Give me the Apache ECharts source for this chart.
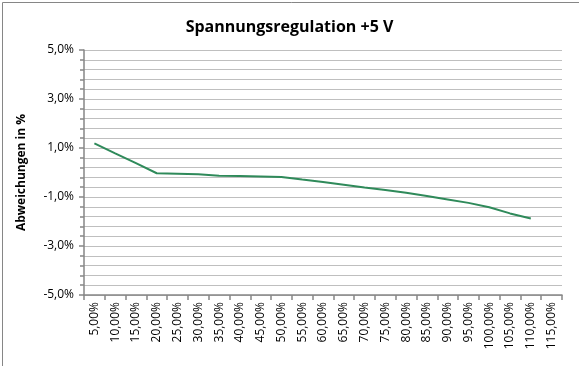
<!DOCTYPE html>
<html>
<head>
<meta charset="utf-8">
<script src="https://cdn.jsdelivr.net/npm/echarts@6/dist/echarts.min.js"></script>
<style>html,body{margin:0;padding:0;background:#fff}#c{width:579px;height:366px}</style>
</head>
<body>
<div id="c"></div>
<script>
const titleText = 'Spannungsregulation +5 V';
const yAxisTitle = 'Abweichungen in %';
const categories = ['5,00%','10,00%','15,00%','20,00%','25,00%','30,00%','35,00%','40,00%','45,00%','50,00%','55,00%','60,00%','65,00%','70,00%','75,00%','80,00%','85,00%','90,00%','95,00%','100,00%','105,00%','110,00%','115,00%'];
const deviation = [1.19, 0.78, 0.38, -0.03, -0.05, -0.07, -0.13, -0.14, -0.16, -0.18, -0.29, -0.39, -0.50, -0.61, -0.71, -0.83, -0.96, -1.10, -1.24, -1.42, -1.67, -1.88];
const yMin = -5, yMax = 5, yStep = 2;

const FONT = 'Open Sans';
const chart = echarts.init(document.getElementById('c'), null, {renderer: 'canvas'});
chart.setOption({
  animation: false,
  backgroundColor: '#fff',
  title: {
    text: titleText, left: 'center', top: 14,
    textStyle: {fontFamily: FONT, fontSize: 16, fontWeight: 'bold', color: '#000'}
  },
  graphic: [{
    type: 'rect', left: 0, top: 0,
    shape: {x: 0.5, y: 0.5, width: 578, height: 365},
    style: {fill: 'none', stroke: '#868686', lineWidth: 1}
  }],
  grid: {left: 84, right: 17, top: 50, bottom: 71},
  xAxis: {
    type: 'category', data: categories, boundaryGap: true,
    axisLine: {onZero: false, lineStyle: {color: '#868686', width: 1.5}},
    axisTick: {show: true, interval: 0, length: 5, lineStyle: {color: '#868686', width: 1.5}},
    axisLabel: {interval: 0, rotate: 90, fontFamily: FONT, fontSize: 12, color: '#000', margin: 7},
    splitLine: {show: false}
  },
  yAxis: {
    type: 'value', min: yMin, max: yMax, interval: yStep,
    name: yAxisTitle, nameLocation: 'middle', nameGap: 56,
    nameTextStyle: {fontFamily: FONT, fontSize: 12, fontWeight: 'bold', color: '#000'},
    axisLine: {show: true, lineStyle: {color: '#868686', width: 1.5}},
    axisTick: {show: true, length: 5, lineStyle: {color: '#868686', width: 1.5}},
    minorTick: {show: true, splitNumber: 5, length: 4, lineStyle: {color: '#868686', width: 1.5}},
    axisLabel: {fontFamily: FONT, fontSize: 12, color: '#000', margin: 10,
      formatter: v => v.toFixed(1).replace('.', ',') + '%'},
    splitLine: {show: true, lineStyle: {color: '#bfbfbf', width: 1}},
    minorSplitLine: {show: true, lineStyle: {color: '#bfbfbf', width: 1}}
  },
  series: [{
    type: 'line', data: deviation, symbol: 'none',
    lineStyle: {color: '#2f8a5a', width: 2}
  }]
});
</script>
</body>
</html>
